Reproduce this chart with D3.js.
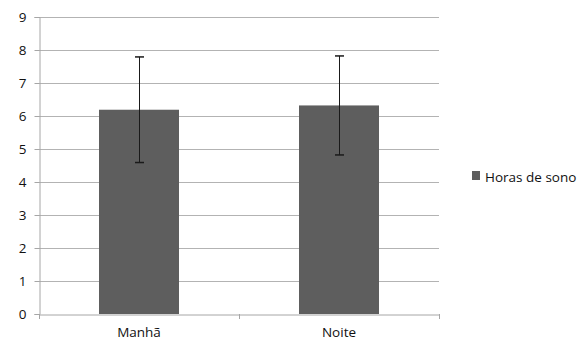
<!DOCTYPE html>
<html><head><meta charset="utf-8">
<script src="https://cdn.jsdelivr.net/npm/d3@7"></script>
<style>body{margin:0;background:#fff}svg{display:block}text{font-family:"Open Sans","Liberation Sans",sans-serif;fill:#111}</style>
</head><body><svg id="c" width="587" height="342"></svg>
<script>
const categories = ["Manhã", "Noite"];
const values = [6.19, 6.32];
const errors = [1.6, 1.5];
const yTicks = [0,1,2,3,4,5,6,7,8,9];
const seriesName = "Horas de sono";

(function(){
const svg = d3.select("#c");
const mLeft = 39, mRight = 439, mTop = 17, mBottom = 314;
const fontFam = '"Open Sans","Liberation Sans",sans-serif';
const x = d3.scaleBand().domain(categories).range([mLeft, mRight]).paddingInner(0).paddingOuter(0);
const y = d3.scaleLinear().domain([0, 9]).range([mBottom, mTop]);

// gridlines
svg.append("g").selectAll("line").data(yTicks.filter(d=>d>0)).join("line")
  .attr("x1", mLeft).attr("x2", mRight)
  .attr("y1", d=>Math.round(y(d))+0.5).attr("y2", d=>Math.round(y(d))+0.5)
  .attr("stroke", "#b3b3b3").attr("stroke-width", 1);

// y axis
const ya = svg.append("g").attr("transform", `translate(${mLeft+0.5},0)`)
  .call(d3.axisLeft(y).tickValues(yTicks).tickSize(5).tickPadding(8).tickFormat(d3.format("d")));
ya.select(".domain").attr("stroke", "#a6a6a6");
ya.selectAll(".tick line").attr("stroke", "#a6a6a6");
ya.selectAll(".tick text").attr("font-size", 13.5).attr("fill", "#111").style("font-family", fontFam);

// bars
const bw = x.bandwidth()*0.4;
svg.append("g").selectAll("rect").data(categories).join("rect")
  .attr("x", d=>x(d)+x.bandwidth()/2-bw/2)
  .attr("width", bw)
  .attr("y", (d,i)=>y(values[i]))
  .attr("height", (d,i)=>y(0)-y(values[i]))
  .attr("fill", "#5e5e5e");

// x axis
const xa = svg.append("g").attr("transform", `translate(0,${mBottom+0.5})`)
  .call(d3.axisBottom(x).tickSize(0).tickPadding(13));
xa.select(".domain").attr("stroke", "#a6a6a6");
xa.selectAll(".tick text").attr("font-size", 13.5).attr("fill", "#111").style("font-family", fontFam);
const bounds = [mLeft, mLeft + x.bandwidth(), mRight];
svg.append("g").selectAll("line").data(bounds).join("line")
  .attr("x1", d=>Math.round(d)+0.5).attr("x2", d=>Math.round(d)+0.5)
  .attr("y1", mBottom).attr("y2", mBottom+5)
  .attr("stroke", "#a6a6a6");

// error bars
const eg = svg.append("g").attr("stroke", "#1a1a1a").attr("stroke-width", 1);
categories.forEach((c,i)=>{
  const cx = Math.round(x(c)+x.bandwidth()/2)+0.5;
  const y1 = y(values[i]+errors[i]), y2 = y(values[i]-errors[i]);
  eg.append("line").attr("x1",cx).attr("x2",cx).attr("y1",y1).attr("y2",y2);
  eg.append("line").attr("x1",cx-4.5).attr("x2",cx+4.5).attr("y1",y1).attr("y2",y1).attr("stroke-width",1.5);
  eg.append("line").attr("x1",cx-4.5).attr("x2",cx+4.5).attr("y1",y2).attr("y2",y2).attr("stroke-width",1.5);
});

// legend
const lg = svg.append("g").attr("transform", "translate(472,171)");
lg.append("rect").attr("width", 8).attr("height", 9).attr("fill", "#5e5e5e");
lg.append("text").attr("x", 13).attr("y", 11).attr("font-size", 13.5).attr("fill", "#111").text(seriesName);
})();
</script></body></html>
